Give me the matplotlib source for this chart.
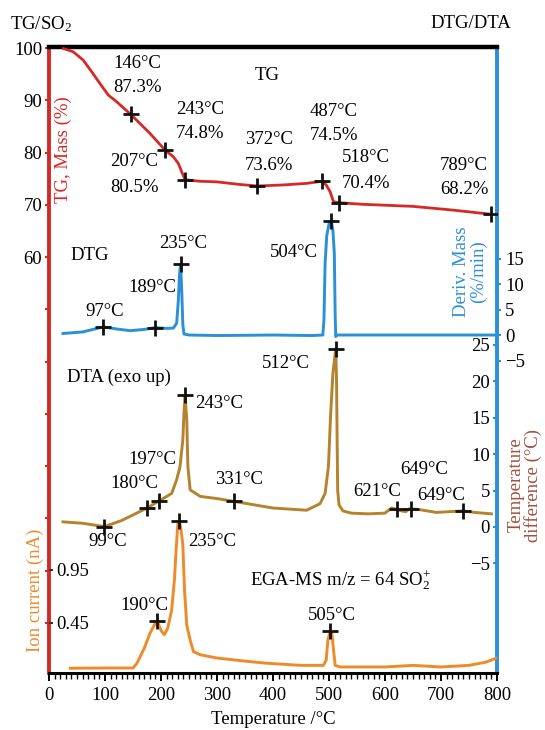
import numpy as np
import matplotlib.pyplot as plt
from matplotlib.ticker import MultipleLocator

plt.rcParams['font.family'] = ['Liberation Serif', 'DejaVu Serif']
plt.rcParams['mathtext.fontset'] = 'custom'
plt.rcParams['mathtext.rm'] = 'Liberation Serif'
plt.rcParams['mathtext.it'] = 'Liberation Serif:italic'

FS = 13.5
RED = '#d42a26'
BLUE = '#2b90d6'
GOLD = '#b5822e'
BROWN = '#a0503e'
ORANGE = '#ee8a2a'

# TG curve (mass %)
tg_temp = [26, 43, 61, 76, 91, 106, 121, 146, 162, 180, 207, 222, 231, 237, 243, 270, 299, 340,
           372, 418, 460, 487, 495, 502, 508, 518, 560, 650, 720, 789]
tg_mass = [99.9, 99.3, 97.7, 95.5, 93.2, 91.0, 89.7, 87.3, 85.6, 83.7, 80.5, 79.2, 77.9, 76.3,
           74.8, 74.5, 74.4, 73.9, 73.6, 73.8, 74.1, 74.5, 73.8, 72.5, 70.6, 70.4, 70.1, 69.7,
           69.0, 68.2]
tg_mark_temp = [146, 207, 243, 372, 487, 518, 789]
tg_mark_val = [87.3, 80.5, 74.8, 73.6, 74.5, 70.4, 68.2]

# DTG curve (%/min)
dtg_temp = [25, 60, 97, 120, 145, 170, 189, 210, 222, 228, 231, 233, 235, 237, 239, 241, 250,
            300, 400, 470, 489, 491, 493, 496, 500, 504, 507, 509.5, 511, 512, 514, 600, 700, 800]
dtg_rate = [0.3, 0.6, 1.6, 1.2, 0.85, 1.1, 1.45, 1.3, 1.35, 2.3, 6.9, 11.8, 13.9, 8.8, 2.0, 0.2,
            0.0, -0.1, 0.0, -0.1, 0.0, 3.0, 14.0, 19.5, 21.8, 22.3, 20.5, 16.0, 4.0, -0.3, 0.0,
            0.0, 0.0, 0.0]
dtg_mark_temp = [97, 189, 235, 504]
dtg_mark_val = [1.6, 1.45, 13.9, 22.3]

# DTA curve (temperature difference, degC)
dta_temp = [25, 61, 99, 130, 150, 175, 197, 219, 228, 234, 239, 241, 243, 246, 248, 252, 270,
            300, 331, 400, 460, 484, 493, 499, 503, 507, 512, 513.5, 514.5, 515.5, 518, 525, 540,
            570, 600, 608, 612, 621, 630, 637, 643, 647, 660, 692, 739, 760, 790]
dta_diff = [0.7, 0.5, 0.05, 0.9, 1.65, 2.6, 3.6, 4.6, 6.5, 8.3, 12.0, 15.6, 18.1, 14.7, 8.3, 5.1,
            4.2, 3.9, 3.5, 2.6, 2.3, 3.2, 4.6, 8.3, 15.6, 21.1, 24.5, 20.0, 12.0, 5.0, 3.0, 2.2,
            1.9, 1.8, 1.9, 2.4, 2.6, 2.4, 2.2, 2.1, 2.5, 2.5, 2.4, 2.0, 2.2, 2.0, 1.8]
dta_mark_temp = [99, 175, 197, 243, 331, 512, 621, 647, 739]
dta_mark_val = [0.05, 2.6, 3.6, 18.1, 3.5, 24.5, 2.4, 2.5, 2.2]

# EGA-MS ion current (nA)
ms_temp = [38, 100, 150, 157, 170, 180, 190, 193, 200, 206, 212, 219, 224, 227, 230, 232, 235,
           239, 242, 246, 252, 258, 270, 299, 350, 389, 450, 490, 495, 498, 502, 505, 508, 511,
           520, 600, 650, 700, 750, 780, 800]
ms_ion = [0.023, 0.025, 0.025, 0.07, 0.21, 0.35, 0.45, 0.47, 0.38, 0.34, 0.40, 0.57, 0.86, 1.14,
          1.38, 1.41, 1.36, 1.19, 0.76, 0.43, 0.29, 0.18, 0.15, 0.12, 0.09, 0.07, 0.05, 0.05,
          0.10, 0.29, 0.37, 0.36, 0.20, 0.05, 0.035, 0.035, 0.05, 0.035, 0.05, 0.08, 0.12]
ms_mark_temp = [193, 232, 502]
ms_mark_val = [0.47, 1.41, 0.37]

fig = plt.figure(figsize=(5.45, 7.3), dpi=100)
ax = fig.add_axes([49 / 545, 57 / 730, 448 / 545, 626 / 730])
ax_dtg = ax.twinx()
ax_dta = ax.twinx()
ax_ms = ax.twinx()

ax.set_xlim(0, 800)
ax.set_ylim(-19.6, 100.2)
ax_dtg.set_ylim(-66.3, 56.5)
ax_dta.set_ylim(-20.05, 65.9)
ax_ms.set_ylim(-0.022, 5.884)

# curves
ax.plot(tg_temp, tg_mass, color=RED, lw=2.0, zorder=3)
ax_dtg.plot(dtg_temp, dtg_rate, color=BLUE, lw=2.1)
ax_dta.plot(dta_temp, dta_diff, color=GOLD, lw=2.1)
ax_ms.plot(ms_temp, ms_ion, color=ORANGE, lw=2.1)

mk = dict(ls='none', marker='+', color='#111111', ms=11, mew=2.0, zorder=5)
ax.plot(tg_mark_temp, tg_mark_val, **mk)
ax_dtg.plot(dtg_mark_temp, dtg_mark_val, **mk)
ax_dta.plot(dta_mark_temp, dta_mark_val, **mk)
ax_ms.plot(ms_mark_temp, ms_mark_val, **mk)

# spines
for a in (ax_dtg, ax_dta, ax_ms):
    for s in a.spines.values():
        s.set_visible(False)
ax.spines['left'].set_color(RED)
ax.spines['left'].set_linewidth(2.8)
ax.spines['right'].set_color(BLUE)
ax.spines['right'].set_linewidth(2.8)
ax.spines['top'].set_color('black')
ax.spines['top'].set_linewidth(3.2)
ax.spines['bottom'].set_color('black')
ax.spines['bottom'].set_linewidth(2.2)

# x axis
ax.set_xticks(range(0, 801, 100))
ax.xaxis.set_minor_locator(MultipleLocator(10))
ax.tick_params(axis='x', which='major', length=6, width=1.4, labelsize=FS, pad=4)
ax.tick_params(axis='x', which='minor', length=4, width=1.0)
ax.set_xlabel('Temperature /°C', fontsize=FS, labelpad=5)

# TG axis (left)
ax.set_yticks([60, 70, 80, 90, 100])
ax.set_yticks([-10, 0, 10, 20, 30, 40, 50], minor=True)
ax.tick_params(axis='y', which='major', left=True, right=False, length=3, width=1.5,
               color=RED, labelsize=FS, pad=2)
ax.tick_params(axis='y', which='minor', left=True, right=False, length=3, width=1.5, color=RED)

# DTG axis (right, outside labels)
ax_dtg.set_yticks([-5, 0, 5, 10, 15])
ax_dtg.tick_params(axis='y', right=True, labelright=True, direction='out', length=3,
                   width=1.5, color=BLUE, labelsize=FS, pad=3)

# DTA axis (right, labels inside)
ax_dta.set_yticks([-5, 0, 5, 10, 15, 20, 25])
ax_dta.tick_params(axis='y', right=True, labelright=True, direction='in', length=3,
                   width=1.5, color=BLUE, labelsize=FS, pad=-5)
for lbl in ax_dta.get_yticklabels():
    lbl.set_horizontalalignment('right')

# ion current axis (left, labels inside)
ax_ms.yaxis.set_ticks_position('left')
ax_ms.yaxis.set_label_position('left')
ax_ms.set_yticks([0.45, 0.95])
ax_ms.set_yticklabels(['0.45', '0.95'])
ax_ms.tick_params(axis='y', left=True, labelleft=True, right=False, labelright=False,
                  direction='in', length=3, width=1.5, color='#333333', labelsize=FS, pad=-5)
for lbl in ax_ms.get_yticklabels():
    lbl.set_horizontalalignment('left')


def at(px, py):
    return ((px - 49) / 448, (673 - py) / 626)


def note(s, px, py, **kw):
    kw.setdefault('ha', 'left')
    kw.setdefault('va', 'center')
    kw.setdefault('fontsize', FS)
    ax.text(*at(px, py), s, transform=ax.transAxes, clip_on=False, zorder=6, **kw)


# TG annotations
tg_notes = [('146°C', 113, 63), ('87.3%', 113, 87), ('207°C', 110, 162), ('80.5%', 110, 187),
            ('243°C', 176, 110), ('74.8%', 176, 134), ('372°C', 245, 140), ('73.6%', 245, 165),
            ('487°C', 310, 112), ('74.5%', 310, 136), ('518°C', 342, 158), ('70.4%', 342, 183),
            ('789°C', 440, 165), ('68.2%', 440, 189), ('TG', 255, 75)]
dtg_notes = [('DTG', 70, 256), ('97°C', 85, 312), ('189°C', 128, 288), ('235°C', 159, 243),
             ('504°C', 270, 253)]
dta_notes = [('DTA (exo up)', 67, 377), ('99°C', 88, 542), ('180°C', 110, 483),
             ('197°C', 128, 460), ('243°C', 195, 403), ('331°C', 215, 480), ('512°C', 262, 363),
             ('621°C', 353, 492), ('649°C', 400, 470), ('649°C', 417, 495)]
ms_notes = [('190°C', 120, 605), ('235°C', 188, 542), ('505°C', 308, 616),
            ('EGA-MS m/z = 64 SO$_\\mathrm{2}^{+}$', 250, 580)]
for s, px, py in tg_notes + dtg_notes + dta_notes + ms_notes:
    note(s, px, py)

# axis titles
note('TG, Mass (%)', 63, 150, rotation=90, ha='center', color=RED)
note('Deriv. Mass\n(%/min)', 470, 272, rotation=90, ha='center', color=BLUE, linespacing=1.0)
note('Temperature\ndifference (°C)', 525, 485, rotation=90, ha='center', color=BROWN,
     linespacing=1.0)
note('Ion current (nA)', 35, 590, rotation=90, ha='center', color=ORANGE)

fig.text(10 / 545, 1 - 24 / 730, 'TG/SO$_\\mathrm{2}$', fontsize=FS, ha='left', va='center')
fig.text(511 / 545, 1 - 24 / 730, 'DTG/DTA', fontsize=FS, ha='right', va='center')

fig.savefig('out.png', dpi=100)
